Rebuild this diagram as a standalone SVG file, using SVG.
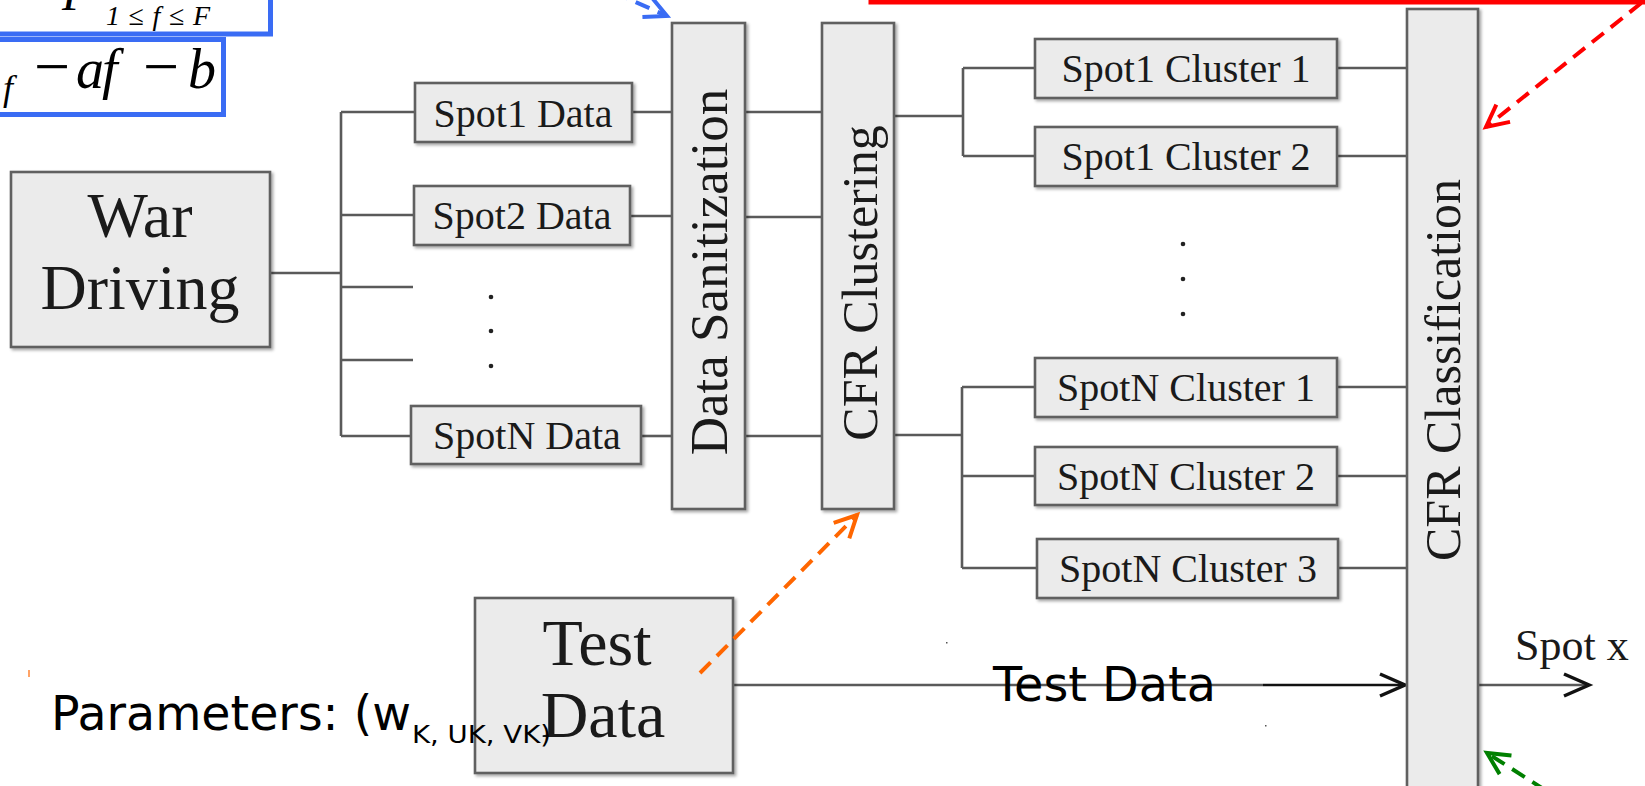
<svg xmlns="http://www.w3.org/2000/svg" width="1645" height="786" viewBox="0 0 1645 786">
<style>
.box{fill:#ebebeb;stroke:#606060;stroke-width:2.6;filter:url(#sh)}
.ln{fill:none;stroke:#5a5a5a;stroke-width:2.6}
.ser{font-family:"Liberation Serif","Times New Roman",serif;fill:#1a1a1a}
.lbl{font-size:40px;text-anchor:middle}
.big{font-size:64px;text-anchor:middle}
.vert{text-anchor:middle}
.sans{font-family:"DejaVu Sans","Liberation Sans",sans-serif;fill:#000}
.dash{fill:none;stroke-width:4;stroke-dasharray:15 9}
.fbox{fill:#fff;stroke:#3a6cf4;stroke-width:5}
.math{font-family:"Liberation Serif","Times New Roman",serif;font-style:italic;fill:#000}
.dot{fill:#222}
</style>
<defs>
<filter id="sh" x="-10%" y="-10%" width="130%" height="130%">
<feDropShadow dx="2" dy="2" stdDeviation="1.5" flood-color="#000" flood-opacity="0.35"/>
</filter>
<marker id="ah-blue" markerUnits="userSpaceOnUse" orient="auto" overflow="visible"><path d="M-22,-11 L0,0 L-22,11" fill="none" stroke="#3a6cf4" stroke-width="4"/></marker>
<marker id="ah-red" markerUnits="userSpaceOnUse" orient="auto" overflow="visible"><path d="M-22,-11 L0,0 L-22,11" fill="none" stroke="#ff0000" stroke-width="4"/></marker>
<marker id="ah-orange" markerUnits="userSpaceOnUse" orient="auto" overflow="visible"><path d="M-22,-11 L0,0 L-22,11" fill="none" stroke="#ff6600" stroke-width="4"/></marker>
<marker id="ah-green" markerUnits="userSpaceOnUse" orient="auto" overflow="visible"><path d="M-22,-11 L0,0 L-22,11" fill="none" stroke="#008000" stroke-width="4"/></marker>
<marker id="ah-black" markerUnits="userSpaceOnUse" orient="auto" overflow="visible"><path d="M-25,-11 L0,0 L-25,11" fill="none" stroke="#111" stroke-width="3.5"/></marker>
</defs>
<rect width="1645" height="786" fill="#fff"/>

<!-- formula boxes (cropped at the top-left edge) -->
<g id="formula-top">
<rect class="fbox" x="-20" y="-40" width="290.5" height="74"/>
<text class="math" x="62" y="10" font-size="48">F</text>
<text class="math" x="106" y="25" font-size="28" font-style="normal" textLength="104" lengthAdjust="spacing">1≤<tspan font-style="italic">f</tspan>≤<tspan font-style="italic">F</tspan></text>
</g>
<g id="formula-bottom">
<rect class="fbox" x="-20" y="39.5" width="243.5" height="75"/>
<text class="math" font-size="36" x="3" y="100">f</text>
<text class="math" font-size="56" y="88"><tspan x="34" font-style="normal" font-size="64">−</tspan><tspan x="76">a</tspan><tspan x="102">f</tspan><tspan x="143" font-style="normal" font-size="64">−</tspan><tspan x="188">b</tspan></text>
</g>
<g id="red-box-edge">
<rect x="871" y="-6" width="800" height="8" fill="none" stroke="#ff0000" stroke-width="5"/>
</g>

<g id="connectors">
<polyline class="ln" points="270,273 341,273"/>
<polyline class="ln" points="341,112 341,436"/>
<polyline class="ln" points="341,112 415,112"/>
<polyline class="ln" points="341,215 414,215"/>
<polyline class="ln" points="341,287 413,287"/>
<polyline class="ln" points="341,360 413,360"/>
<polyline class="ln" points="341,436 411,436"/>
<polyline class="ln" points="632,112 672,112"/>
<polyline class="ln" points="630,216 672,216"/>
<polyline class="ln" points="641,436 672,436"/>
<polyline class="ln" points="745,112 822,112"/>
<polyline class="ln" points="745,217 822,217"/>
<polyline class="ln" points="745,436 822,436"/>
<polyline class="ln" points="894,116 963,116"/>
<polyline class="ln" points="963,68 963,156"/>
<polyline class="ln" points="963,68 1035,68"/>
<polyline class="ln" points="963,156 1035,156"/>
<polyline class="ln" points="1337,68 1407,68"/>
<polyline class="ln" points="1337,156 1407,156"/>
<polyline class="ln" points="894,435 962,435"/>
<polyline class="ln" points="962,387 962,568"/>
<polyline class="ln" points="962,387 1035,387"/>
<polyline class="ln" points="962,476 1035,476"/>
<polyline class="ln" points="962,568 1037,568"/>
<polyline class="ln" points="1337,387 1407,387"/>
<polyline class="ln" points="1337,476 1407,476"/>
<polyline class="ln" points="1338,568 1407,568"/>
<polyline class="ln" points="733,685 1263,685"/>
<line x1="1263" y1="685" x2="1405" y2="685" stroke="#111" stroke-width="2.6" marker-end="url(#ah-black)"/>
<line x1="1478" y1="685" x2="1589" y2="685" stroke="#5a5a5a" stroke-width="2.6" marker-end="url(#ah-black)"/>
</g>

<g id="war-driving">
<rect class="box" x="11" y="172" width="259" height="175"/>
<text class="ser big" x="140" y="237">War</text>
<text class="ser big" x="140" y="309">Driving</text>
</g>
<g id="spot1-data">
<rect class="box" x="415" y="83" width="217" height="59"/>
<text class="ser lbl" x="523" y="127">Spot1 Data</text>
</g>
<g id="spot2-data">
<rect class="box" x="414" y="186" width="216" height="59"/>
<text class="ser lbl" x="522" y="229">Spot2 Data</text>
</g>
<g id="spot-data-dots">
<circle class="dot" cx="491" cy="297" r="2.3"/>
<circle class="dot" cx="491" cy="331" r="2.3"/>
<circle class="dot" cx="491" cy="366" r="2.3"/>
</g>
<g id="spotn-data">
<rect class="box" x="411" y="406" width="230" height="58"/>
<text class="ser lbl" x="527" y="449">SpotN Data</text>
</g>
<g id="data-sanitization">
<rect class="box" x="672" y="23" width="73" height="486"/>
<text class="ser vert" font-size="53" transform="translate(727,272) rotate(-90)">Data Sanitization</text>
</g>
<g id="cfr-clustering">
<rect class="box" x="822" y="23" width="72" height="486"/>
<text class="ser vert" font-size="50" transform="translate(877,283) rotate(-90)">CFR Clustering</text>
</g>
<g id="spot1-cluster1">
<rect class="box" x="1035" y="39" width="302" height="59"/>
<text class="ser lbl" x="1186" y="82">Spot1 Cluster 1</text>
</g>
<g id="spot1-cluster2">
<rect class="box" x="1035" y="127" width="302" height="59"/>
<text class="ser lbl" x="1186" y="170">Spot1 Cluster 2</text>
</g>
<g id="cluster-dots">
<circle class="dot" cx="1183" cy="244" r="2.3"/>
<circle class="dot" cx="1183" cy="279" r="2.3"/>
<circle class="dot" cx="1183" cy="314" r="2.3"/>
</g>
<g id="spotn-cluster1">
<rect class="box" x="1035" y="358" width="302" height="59"/>
<text class="ser lbl" x="1186" y="401">SpotN Cluster 1</text>
</g>
<g id="spotn-cluster2">
<rect class="box" x="1035" y="447" width="302" height="58"/>
<text class="ser lbl" x="1186" y="490">SpotN Cluster 2</text>
</g>
<g id="spotn-cluster3">
<rect class="box" x="1037" y="539" width="301" height="59"/>
<text class="ser lbl" x="1188" y="582">SpotN Cluster 3</text>
</g>
<g id="cfr-classification">
<rect class="box" x="1407" y="9" width="71" height="800"/>
<text class="ser vert" font-size="50" transform="translate(1460,370) rotate(-90)">CFR Classification</text>
</g>
<g id="test-data">
<rect class="box" x="475" y="598" width="258" height="175"/>
<text class="ser" font-size="66" text-anchor="middle" x="597" y="665">Test</text>
<text class="ser" font-size="66" text-anchor="middle" x="603" y="737">Data</text>
</g>

<g id="annotation-arrows">
<line class="dash" x1="548" y1="-37" x2="667" y2="16" stroke="#3a6cf4" marker-end="url(#ah-blue)"/>
<line class="dash" x1="1660" y1="-12" x2="1486" y2="127" stroke="#ff0000" marker-end="url(#ah-red)"/>
<line class="dash" x1="700" y1="673" x2="857" y2="515" stroke="#ff6600" marker-end="url(#ah-orange)"/>
<line class="dash" x1="1545" y1="790" x2="1487" y2="753" stroke="#008000" marker-end="url(#ah-green)"/>
</g>

<g id="labels">
<text class="ser" font-size="44" x="1515" y="660">Spot x</text>
<text class="sans" font-size="48" x="993" y="701" textLength="223" lengthAdjust="spacingAndGlyphs">Test Data</text>
<text class="sans" font-size="48" x="51" y="730" textLength="360" lengthAdjust="spacingAndGlyphs">Parameters: (w</text>
<text class="sans" font-size="24" x="412" y="743" textLength="139" lengthAdjust="spacingAndGlyphs">K, UK, VK)</text>
<line x1="29" y1="670" x2="29" y2="677" stroke="#ff6600" stroke-width="1.2"/>
<rect x="946" y="642" width="1.5" height="1.5" fill="#555"/>
<rect x="1265" y="725" width="1.5" height="1.5" fill="#555"/>
</g>
</svg>
